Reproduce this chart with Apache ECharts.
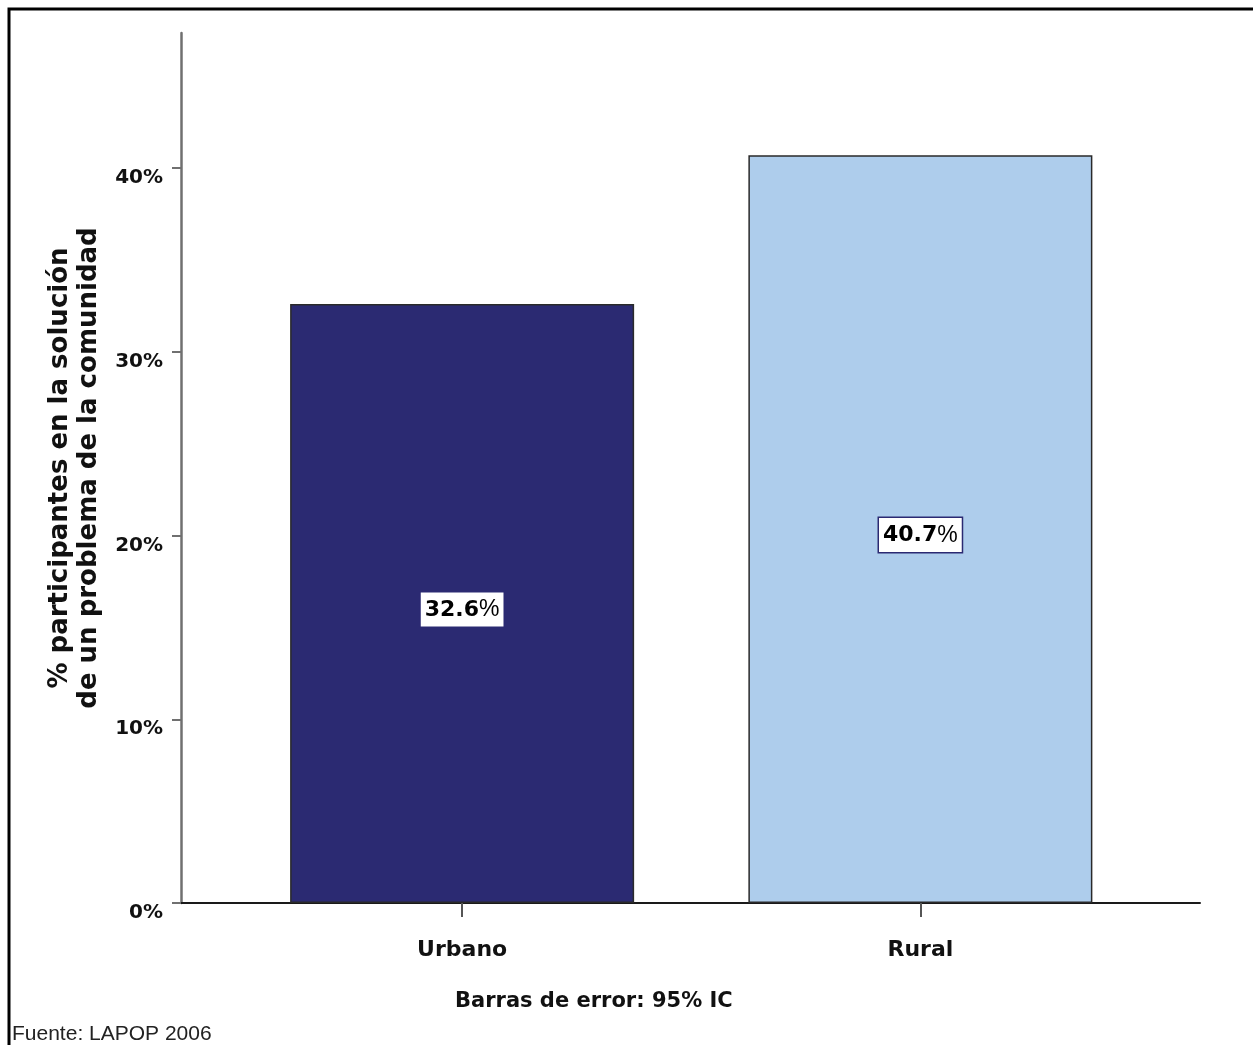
<!DOCTYPE html>
<html>
<head>
<meta charset="utf-8">
<script src="https://cdn.jsdelivr.net/npm/echarts@6/dist/echarts.min.js"></script>
<style>html,body{margin:0;padding:0;background:#fff}#c{width:1253px;height:1045px}</style>
</head>
<body>
<div id="c"></div>
<script>
const categories = ['Urbano', 'Rural'];
const values = [32.6, 40.7];
const barColors = ['#2b2a72', '#aecdec'];
const yTicks = [0, 10, 20, 30, 40];
const yTitle = '% participantes en la solución\nde un problema de la comunidad';
const xNote = 'Barras de error: 95% IC';
const source = 'Fuente: LAPOP 2006';

const chart = echarts.init(document.getElementById('c'), null, {renderer: 'canvas'});
const heavy = 'DejaVu Sans, Liberation Sans, Arial, sans-serif';
chart.setOption({
  animation: false,
  backgroundColor: '#fff',
  graphic: [{
    type: 'rect', shape: {x: 9, y: 9, width: 1300, height: 1100},
    style: {fill: 'none', stroke: '#000', lineWidth: 3}, silent: true
  }],
  title: [{
    text: xNote, left: 450, top: 986,
    textStyle: {fontFamily: heavy, fontWeight: 'bold', fontSize: 21, color: '#111'}
  }, {
    text: source, left: 7, top: 1019,
    textStyle: {fontFamily: 'Liberation Sans Narrow, Liberation Sans, Arial, sans-serif', fontWeight: 'normal', fontSize: 21, color: '#222'}
  }],
  grid: [
    {left: 181, right: 53, top: 33, bottom: 142},
    {left: 233, right: 103.5, top: 33, bottom: 142}
  ],
  xAxis: [{
    gridIndex: 0, type: 'value', min: 0, max: 1,
    axisLine: {show: true, lineStyle: {color: '#1a1a1a', width: 2}},
    axisTick: {show: false}, axisLabel: {show: false}, splitLine: {show: false}
  }, {
    gridIndex: 1, type: 'category', data: categories,
    axisLine: {show: false},
    axisTick: {show: true, alignWithLabel: true, length: 14, lineStyle: {color: '#555', width: 2}},
    axisLabel: {margin: 36, fontFamily: heavy, fontWeight: 'bold', fontSize: 22, color: '#111'},
    splitLine: {show: false}
  }],
  yAxis: [{
    gridIndex: 0, type: 'value', min: 0, max: 47.35, interval: 10,
    axisLine: {show: true, lineStyle: {color: '#707070', width: 2.5}},
    axisTick: {show: true, length: 9, lineStyle: {color: '#707070', width: 2}},
    axisLabel: {
      showMaxLabel: false, margin: 18, verticalAlign: 'top', lineHeight: 20,
      formatter: v => yTicks.includes(v) ? v + '%' : '',
      fontFamily: heavy, fontWeight: 'bold', fontSize: 20, color: '#111'
    },
    splitLine: {show: false},
    name: yTitle, nameLocation: 'middle', nameGap: 69, nameRotate: 90,
    nameTextStyle: {fontFamily: heavy, fontWeight: 'bold', fontSize: 26, color: '#111', lineHeight: 29}
  }, {
    gridIndex: 1, type: 'value', min: 0, max: 47.35, interval: 10,
    show: false
  }],
  series: [{
    type: 'bar', xAxisIndex: 1, yAxisIndex: 1, barWidth: 344,
    data: values.map((v, i) => ({value: v, itemStyle: {color: barColors[i]}})),
    itemStyle: {borderColor: '#2a2a2a', borderWidth: 1.5},
    label: {
      show: true, position: 'inside', offset: [0, 6],
      formatter: p => '{b|' + p.value.toFixed(1) + '}{n|%}',
      backgroundColor: '#fff', borderColor: '#2b2a72', borderWidth: 1.5,
      padding: [6, 4, 5, 4],
      rich: {
        b: {fontFamily: heavy, fontWeight: 'bold', fontSize: 22, color: '#000'},
        n: {fontFamily: 'Liberation Sans, Arial, sans-serif', fontWeight: 'normal', fontSize: 23, color: '#000'}
      }
    }
  }]
});
</script>
</body>
</html>
